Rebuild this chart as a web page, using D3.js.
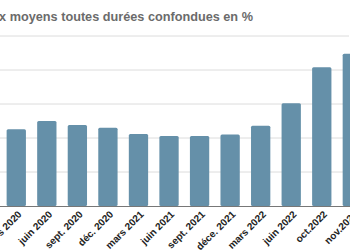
<!DOCTYPE html>
<html>
<head>
<meta charset="utf-8">
<script src="https://cdn.jsdelivr.net/npm/d3@7"></script>
<style>
  html, body { margin: 0; padding: 0; background: #fff; overflow: hidden; }
  svg { display: block; }
</style>
</head>
<body>
<div id="chart"></div>
<script>
const svgAttr = { width: 350, height: 250 };

// Data
const periods = ["mars 2020", "juin 2020", "sept. 2020", "déc. 2020", "mars 2021", "juin 2021",
                 "sept. 2021", "déce. 2021", "mars 2022", "juin 2022", "oct.2022", "nov.2022"];
const rates = [1.13, 1.25, 1.19, 1.15, 1.06, 1.03, 1.03, 1.05, 1.18, 1.51, 2.04, 2.24];
const yTicks = [0, 0.5, 1, 1.5, 2, 2.5];

const title = "Taux moyens toutes durées confondues en %";

const barAttr = { fill: "#6590a9" };

const svg = d3.select("#chart")
              .append("svg")
              .attr("width", svgAttr.width)
              .attr("height", svgAttr.height);

const x = d3.scaleBand()
            .domain(periods)
            .range([1, 367.6])
            .paddingInner(0.368)
            .paddingOuter(0.184);

const y = d3.scaleLinear()
            .domain([0, 2.5])
            .range([206, 36]);

// Title (the left part falls outside the frame)
svg.append("text")
   .attr("x", -22.5)
   .attr("y", 21)
   .attr("font-family", "Liberation Sans, Arial, sans-serif")
   .attr("font-weight", "bold")
   .attr("font-size", 12.7)
   .attr("fill", "#6b6b6b")
   .text(title);

// Gridlines
svg.append("g")
   .selectAll("line")
   .data(yTicks.slice(1))
   .join("line")
   .attr("x1", -10)
   .attr("x2", 349)
   .attr("y1", d => y(d))
   .attr("y2", d => y(d))
   .attr("stroke", "#dcdcdc")
   .attr("stroke-width", 1);

// Bars
svg.append("g")
   .selectAll("rect")
   .data(periods)
   .join("rect")
   .attr("x", d => x(d))
   .attr("y", (d, i) => y(rates[i]))
   .attr("width", x.bandwidth())
   .attr("height", (d, i) => y(0) - y(rates[i]))
   .attr("rx", 1.5)
   .attr("fill", barAttr.fill);

// Baseline
svg.append("line")
   .attr("x1", -10)
   .attr("x2", 350)
   .attr("y1", y(0) + 0.5)
   .attr("y2", y(0) + 0.5)
   .attr("stroke", "#777")
   .attr("stroke-width", 1);

// X axis labels
const xAxis = d3.axisBottom(x).tickSize(0).tickPadding(0);
const gx = svg.append("g")
              .attr("transform", `translate(0,${y(0)})`)
              .call(xAxis);
gx.select(".domain").remove();
gx.selectAll("text")
  .attr("font-family", "Liberation Sans, Arial, sans-serif")
  .attr("font-weight", "bold")
  .attr("font-size", 10)
  .attr("fill", "#222")
  .attr("text-anchor", "end")
  .attr("dy", 0)
  .attr("transform", "translate(6,9) rotate(-45)");
</script>
</body>
</html>
